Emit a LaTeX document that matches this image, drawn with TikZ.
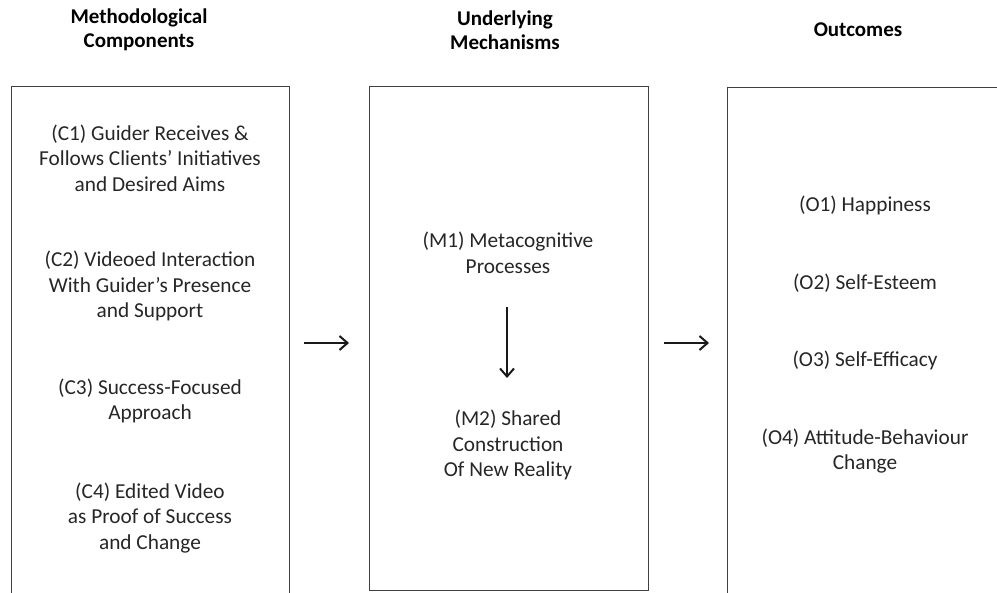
\documentclass[tikz,border=0pt]{standalone}
\usepackage{fontspec}
\setmainfont{Carlito}
\usetikzlibrary{arrows.meta}
\tikzset{
  panel/.style={draw=black!75, line width=1pt, fill=none, inner sep=0pt},
  body/.style={align=center, text=black!85, font=\fontsize{21.3}{25.6}\selectfont, inner sep=0pt},
  head/.style={align=center, text=black, font=\bfseries\fontsize{21}{24}\selectfont, inner sep=0pt},
  flow/.style={-{Straight Barb[length=8pt,width=14pt,line width=2pt]}, line width=1.7pt, black!90}
}
\begin{document}
\begin{tikzpicture}[x=1pt,y=-1pt]
\useasboundingbox (0,0) rectangle (997,593);
\clip (0,0) rectangle (997,593);
% headings
\node[head] (h1) at (139,30) {Methodological\\Components};
\node[head] (h2) at (505,30) {Underlying\\Mechanisms};
\node[head] (h3) at (858,30) {Outcomes};
% panels
\node[panel, minimum width=278pt, minimum height=540pt, anchor=north west] (pc) at (11,86) {};
\node[panel, minimum width=279pt, minimum height=504pt, anchor=north west] (pm) at (369,86) {};
\node[panel, minimum width=320pt, minimum height=540pt, anchor=north west] (po) at (727,87) {};
% components
\node[body] (c1) at (150,158) {(C1) Guider Receives \&\\Follows Clients’ Initiatives\\and Desired Aims};
\node[body] (c2) at (150,286) {(C2) Videoed Interaction\\With Guider’s Presence\\and Support};
\node[body] (c3) at (150,401) {(C3) Success-Focused\\Approach};
\node[body] (c4) at (150,518) {(C4) Edited Video\\as Proof of Success\\and Change};
% mechanisms
\node[body] (m1) at (508,253) {(M1) Metacognitive\\Processes};
\node[body] (m2) at (508,445) {(M2) Shared\\Construction\\Of New Reality};
% outcomes
\node[body] (o1) at (865,205) {(O1) Happiness};
\node[body] (o2) at (865,283) {(O2) Self-Esteem};
\node[body] (o3) at (865,360) {(O3) Self-Efficacy};
\node[body] (o4) at (865,451) {(O4) Attitude-Behaviour\\Change};
% arrows
\coordinate (a1s) at (304,343);
\coordinate (a1e) at (349,343);
\coordinate (a2s) at (664,343);
\coordinate (a2e) at (709,343);
\coordinate (dms) at (507,307);
\coordinate (dme) at (507,378);
\draw[flow] (a1s) -- (a1e);
\draw[flow] (a2s) -- (a2e);
\draw[flow] (dms) -- (dme);
\end{tikzpicture}
\end{document}
